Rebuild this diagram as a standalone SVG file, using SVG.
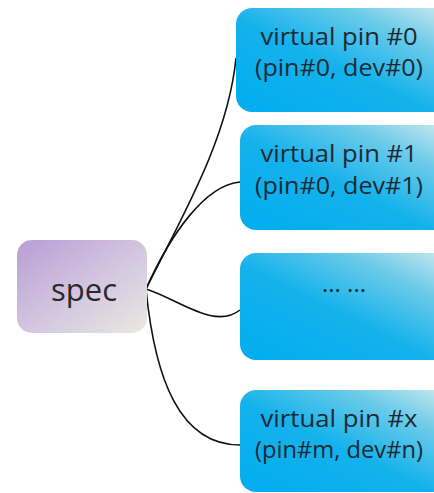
<svg xmlns="http://www.w3.org/2000/svg" width="434" height="493" viewBox="0 0 434 493">
  <defs>
    <linearGradient id="gBlue" x1="0" y1="1" x2="1" y2="0">
      <stop offset="0" stop-color="#00adef"/>
      <stop offset="0.45" stop-color="#14b2ec"/>
      <stop offset="0.75" stop-color="#6ccbe9"/>
      <stop offset="1" stop-color="#d4ebef"/>
    </linearGradient>
    <linearGradient id="gPurple" x1="0" y1="0" x2="1" y2="1">
      <stop offset="0" stop-color="#b79ed4"/>
      <stop offset="0.5" stop-color="#d2c4e0"/>
      <stop offset="1" stop-color="#e9e9e0"/>
    </linearGradient>
    <style>
      .blue { fill: url(#gBlue); }
      .purple { fill: url(#gPurple); }
      .lbl { font-family: "Open Sans", "Liberation Sans", sans-serif; font-size: 24px; fill: #1e2a33; text-anchor: middle; }
      .spec { font-family: "Open Sans", "Liberation Sans", sans-serif; font-size: 31px; fill: #2a2a2a; text-anchor: middle; }
      .conn { fill: none; stroke: #111; stroke-width: 1.6; }
    </style>
  </defs>

  <g id="connectors">
    <path class="conn" d="M146,289 C180,220 228,140 236,58"/>
    <path class="conn" d="M146,289 C170,235 205,185 240,182"/>
    <path class="conn" d="M146,289 C180,300 215,330 240,310"/>
    <path class="conn" d="M146,289 C155,380 180,445 240,445"/>
  </g>

  <g id="spec">
    <rect class="purple" x="17" y="240" width="130" height="93" rx="15"/>
    <text class="spec" x="84" y="301">spec</text>
  </g>

  <g id="vpin0">
    <rect class="blue" x="236" y="8" width="220" height="104" rx="16"/>
    <text class="lbl" x="339" y="45" textLength="157" lengthAdjust="spacingAndGlyphs">virtual pin #0</text>
    <text class="lbl" x="339" y="76" textLength="168" lengthAdjust="spacingAndGlyphs">(pin#0, dev#0)</text>
  </g>

  <g id="vpin1">
    <rect class="blue" x="240" y="125" width="216" height="105" rx="16"/>
    <text class="lbl" x="339" y="162" textLength="157" lengthAdjust="spacingAndGlyphs">virtual pin #1</text>
    <text class="lbl" x="339" y="194" textLength="168" lengthAdjust="spacingAndGlyphs">(pin#0, dev#1)</text>
  </g>

  <g id="vpin-more">
    <rect class="blue" x="240" y="253" width="216" height="107" rx="16"/>
    <text class="lbl" x="344" y="292">... ...</text>
  </g>

  <g id="vpinx">
    <rect class="blue" x="240" y="390" width="216" height="102" rx="16"/>
    <text class="lbl" x="339" y="427" textLength="157" lengthAdjust="spacingAndGlyphs">virtual pin #x</text>
    <text class="lbl" x="339" y="458" textLength="168" lengthAdjust="spacingAndGlyphs">(pin#m, dev#n)</text>
  </g>
</svg>
